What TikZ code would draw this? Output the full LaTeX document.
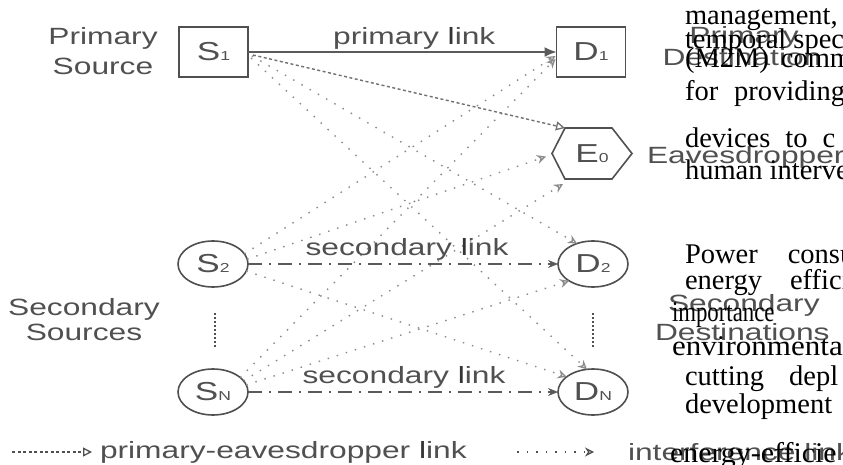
\documentclass[tikz,border=0pt]{standalone}
\usepackage{fontspec}
\setmainfont{Liberation Serif}
\newfontfamily\labfont[FakeStretch=1.35]{Liberation Sans}
\usetikzlibrary{arrows.meta,shapes.geometric,calc}
\definecolor{ink}{HTML}{505050}
\definecolor{linkink}{HTML}{5a5a5a}
\definecolor{dashink}{HTML}{707070}
\definecolor{dotink}{HTML}{8c8c8c}
\newcommand\lab[2]{{\fontsize{26}{26}\selectfont #1}{\fontsize{13}{13}\selectfont #2}}
\newcommand\dl{\textcolor{black!80}{l}}
\begin{document}
\begin{tikzpicture}[x=1pt,y=-1pt,
  every node/.style={inner sep=0pt,outer sep=0pt},
  glabel/.style={text=ink,font=\labfont\fontsize{23.5}{30}\selectfont},
  pbox/.style={draw=ink,line width=1.8pt,minimum width=69pt,minimum height=50pt,text=ink,font=\labfont},
  sbox/.style={ellipse,draw=ink,line width=1.6pt,minimum width=70pt,minimum height=46pt,text=ink,font=\labfont},
  plink/.style={draw=linkink,line width=1.5pt,-{Latex[length=12pt,width=10pt]}},
  slink/.style={draw=linkink,line width=1.3pt,dash pattern=on 14pt off 7pt on 2pt off 7pt,-{Stealth[length=10pt,width=8pt]}},
  elink/.style={draw=dashink,line width=1.4pt,dash pattern=on 3pt off 2.5pt,-{Triangle[open,length=9pt,width=9pt,line width=1.3pt]}},
  ilink/.style={draw=dotink,line width=1.4pt,dash pattern=on 1.5pt off 8pt,-{Stealth[open,length=9pt,width=9pt,line width=1.3pt]}},
  body/.style={anchor=base west,font=\fontsize{28.5}{29}\selectfont,text=black}]
\useasboundingbox (0,0) rectangle (843,465);
\clip (0,0) rectangle (843,465);

% nodes
\node[pbox] (S1) at (213.5,52) {\lab{S}{1}};
\node[pbox] (D1) at (591,52) {\lab{D}{1}};
\node[sbox] (S2) at (213,264) {\lab{S}{2}};
\node[sbox] (SN) at (213,392) {\lab{S}{N}};
\node[sbox] (D2) at (593,264) {\lab{D}{2}};
\node[sbox] (DN) at (593,392) {\lab{D}{N}};

% eavesdropper hexagon
\coordinate (E0w) at (552,153.5);
\coordinate (E0nw) at (565,128);
\coordinate (E0ne) at (612,128);
\coordinate (E0e) at (632,153.5);
\coordinate (E0se) at (612,179);
\coordinate (E0sw) at (565,179);
\draw[ink,line width=1.6pt,line join=miter] (E0w) -- (E0nw) -- (E0ne) -- (E0e) -- (E0se) -- (E0sw) -- cycle;
\node[text=ink,font=\labfont] (E0) at (592,153.5) {\lab{E}{0}};

% side labels
\node[glabel,anchor=base] (lps1) at (103,45) {Primary};
\node[glabel,anchor=base] (lps2) at (103,75) {Source};
\node[glabel,anchor=base] (lss1) at (84,315) {Secondary};
\node[glabel,anchor=base] (lss2) at (84,340) {Sources};
\node[glabel,anchor=base] (lpd1) at (744,44) {Primary};
\node[glabel,anchor=base] (lpd2) at (742,66) {Destination};
\node[glabel,anchor=base west] (le) at (647,164) {Eavesdropper};
\node[glabel,anchor=base west] (lsd1) at (668,311) {Secondary};
\node[glabel,anchor=base west] (lsd2) at (655,340) {Destinations};

% vertical ellipsis dots
\coordinate (sv1) at (215,313); \coordinate (sv2) at (215,348);
\coordinate (dv1) at (593,313); \coordinate (dv2) at (593,348);
\draw[ink,line width=1.6pt,dash pattern=on 1.5pt off 2.5pt] (sv1) -- (sv2);
\draw[ink,line width=1.6pt,dash pattern=on 1.5pt off 2.5pt] (dv1) -- (dv2);

% interference links
\draw[ilink] ($(S1.east)+(4,4)$) -- (D2.128);
\draw[ilink] ($(S1.east)+(3,6)$) -- (DN.105);
\draw[ilink] (S2.18) -- ($(D1.west)+(-1,4)$);
\draw[ilink] (S2.8) -- ($(E0w)+(-6,3)$);
\draw[ilink] (S2.-12) -- (DN.150);
\draw[ilink] (SN.28) -- ($(D1.west)+(-1,7)$);
\draw[ilink] (SN.20) -- ($(E0sw)+(-2,5)$);
\draw[ilink] (SN.12) -- (D2.215);

% primary-eavesdropper link
\draw[elink] ($(S1.east)+(5,3)$) -- (E0nw);

% direct links
\draw[plink] (S1) -- (D1) node[midway,anchor=base,yshift=7pt,xshift=12pt,glabel] (lpl) {primary \dl ink};
\draw[slink] (S2) -- (D2) node[midway,anchor=base,yshift=9pt,xshift=4pt,glabel] (lsl2) {secondary \dl ink};
\draw[slink] (SN) -- (DN) node[midway,anchor=base,yshift=9pt,xshift=1pt,glabel] (lsln) {secondary \dl ink};

% legend
\coordinate (la1) at (12,452); \coordinate (la2) at (92,452);
\draw[draw=ink,line width=1.4pt,dash pattern=on 3pt off 2.5pt,-{Triangle[open,length=9pt,width=9pt,line width=1.3pt]}] (la1) -- (la2);
\node[glabel,anchor=west] (lt1) at (100,452) {primary-eavesdropper \dl ink};
\coordinate (lb1) at (517,452); \coordinate (lb2) at (594,452);
\draw[ilink,draw=ink] (lb1) -- (lb2);
\node[glabel,anchor=west] (lt2) at (628,452) {interference link};

% overlapping body text
\node[body] (t1) at (685,25) {management,};
\node[body] (t2) at (685,49) {temporal spec};
\node[body] (t3) at (685,68) {(M2M)\hspace{12pt}comm};
\node[body] (t4) at (685,101) {for\hspace{16pt}providing};
\node[body] (t5) at (685,148) {devices\hspace{15pt}to\hspace{15pt}c};
\node[body] (t6) at (685,180) {human interve};
\node[body] (t7) at (685,263) {Power\hspace{30pt}consu};
\node[body] (t8) at (685,289) {energy\hspace{28pt}effici};
\node[body] (t9) at (672,321) {\scalebox{0.8}[1]{importance}};
\node[body] (t10) at (672,355) {\scalebox{1.09}[1]{environmenta}};
\node[body] (t11) at (685,385) {cutting\hspace{25pt}depl};
\node[body] (t12) at (685,413) {development};
\node[body] (t13) at (670,462) {\scalebox{1.05}[1]{energy-efficie}};
\end{tikzpicture}
\end{document}
